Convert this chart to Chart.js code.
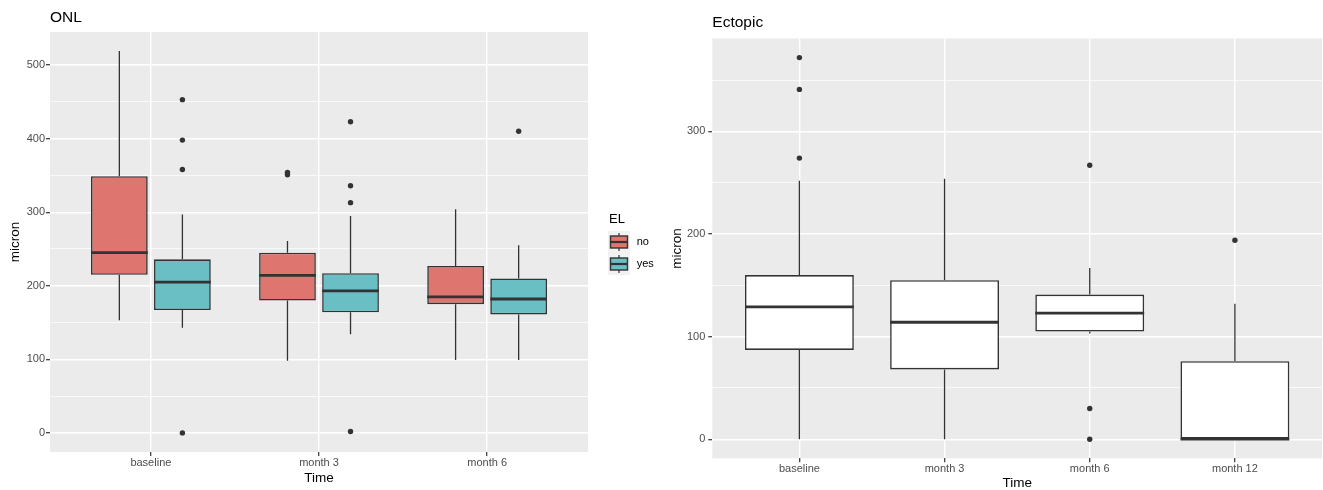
<!DOCTYPE html>
<html>
<head>
<meta charset="utf-8">
<script src="https://cdn.jsdelivr.net/npm/chart.js@4.4.1/dist/chart.umd.min.js"></script>
<style>
html,body{margin:0;padding:0;background:#ffffff;}
#wrap{position:relative;width:1323px;height:490px;overflow:hidden;}
#onl{position:absolute;left:0;top:0;}
#ect{position:absolute;left:655px;top:0;}
</style>
</head>
<body>
<div id="wrap">
<canvas id="onl" width="655" height="490"></canvas>
<canvas id="ect" width="668" height="490"></canvas>
</div>
<script>
// ---------------- DATA ----------------
// ONL panel (grouped by EL)
const onlTimes = ['baseline', 'month 3', 'month 6'];
const onlGroups = ['no', 'yes'];

const onlNoWhiskerLow  = [153, 98, 99];
const onlNoQ1          = [215, 180, 175];
const onlNoMedian      = [245, 214, 185];
const onlNoQ3          = [349, 245, 227];
const onlNoWhiskerHigh = [519, 261, 304];
const onlNoOutliers    = [[], [351, 354], []];

const onlYesWhiskerLow  = [143, 134, 99];
const onlYesQ1          = [167, 164, 161];
const onlYesMedian      = [205, 193, 182];
const onlYesQ3          = [236, 217, 210];
const onlYesWhiskerHigh = [297, 295, 255];
const onlYesOutliers    = [[453, 398, 358, 0], [423, 336, 313, 2], [410]];

const onlYTicks = [0, 100, 200, 300, 400, 500];

// Ectopic panel
const ectTimes = ['baseline', 'month 3', 'month 6', 'month 12'];
const ectWhiskerLow  = [0, 0, 103, 0];
const ectQ1          = [87, 68, 105, 0];
const ectMedian      = [129, 114, 123, 0];
const ectQ3          = [160, 155, 141, 76];
const ectWhiskerHigh = [252, 254, 167, 132];
const ectOutliers    = [[372, 341, 274], [], [267, 30, 0], [194]];

const ectYTicks = [0, 100, 200, 300];

// ---------------- STYLE ----------------
const FONT = "'Liberation Sans', Arial, Helvetica, sans-serif";
const groupFill = ['#DE756F', '#69BFC4'];
const INK = '#333333';
const PANEL = '#EBEBEB';
const TICKTXT = '#4D4D4D';

Chart.defaults.font.family = FONT;
Chart.defaults.animation = false;

// ggplot-like continuous range: data range expanded by 5%
function ggRange(values) {
  const all = values.flat(3);
  const lo = Math.min(...all), hi = Math.max(...all);
  const pad = (hi - lo) * 0.05;
  return [lo - pad, hi + pad];
}
// major + minor (midpoint) breaks inside the range
function ggBreaks(major, min, max) {
  const step = major[1] - major[0];
  const out = [];
  for (let v = major[0] - step; v <= major[major.length - 1] + step + 1e-9; v += step / 2) {
    if (v >= min && v <= max) out.push(v);
  }
  return out;
}
// ggplot discrete axis: 0.6 unit padding on each side
function ggDiscrete(scale) {
  const n = scale.getLabels().length;
  scale._startValue = -0.6;
  scale._valueRange = n - 1 + 1.2;
}

// ---------------- PLUGINS ----------------
const boxExtras = {
  id: 'boxExtras',
  beforeDraw(chart) {
    const {ctx, chartArea: a} = chart;
    ctx.save();
    ctx.fillStyle = PANEL;
    ctx.fillRect(a.left, a.top, a.width, a.height);
    ctx.restore();
  },
  beforeDatasetsDraw(chart) {
    const ctx = chart.ctx, ys = chart.scales.y;
    chart.data.datasets.forEach((ds, di) => {
      const st = ds.stats;
      chart.getDatasetMeta(di).data.forEach((bar, j) => {
        ctx.save();
        ctx.strokeStyle = INK;
        ctx.lineWidth = 1.3;
        ctx.beginPath();
        ctx.moveTo(bar.x, ys.getPixelForValue(st.hi[j]));
        ctx.lineTo(bar.x, ys.getPixelForValue(st.q3[j]));
        ctx.moveTo(bar.x, ys.getPixelForValue(st.lo[j]));
        ctx.lineTo(bar.x, ys.getPixelForValue(st.q1[j]));
        ctx.stroke();
        ctx.restore();
      });
    });
  },
  afterDatasetsDraw(chart) {
    const ctx = chart.ctx, ys = chart.scales.y;
    chart.data.datasets.forEach((ds, di) => {
      const st = ds.stats;
      chart.getDatasetMeta(di).data.forEach((bar, j) => {
        const half = bar.width / 2;
        const ym = ys.getPixelForValue(st.med[j]);
        ctx.save();
        ctx.strokeStyle = INK;
        ctx.lineWidth = 2.8;
        ctx.beginPath();
        ctx.moveTo(bar.x - half, ym);
        ctx.lineTo(bar.x + half, ym);
        ctx.stroke();
        ctx.fillStyle = INK;
        st.out[j].forEach(v => {
          ctx.beginPath();
          ctx.arc(bar.x, ys.getPixelForValue(v), 2.7, 0, Math.PI * 2);
          ctx.fill();
        });
        ctx.restore();
      });
    });
  }
};

const elLegend = {
  id: 'elLegend',
  afterDraw(chart, args, opts) {
    if (!opts || !opts.display) return;
    const {ctx, chartArea: a} = chart;
    const x0 = a.right + 20;
    const cy = (a.top + a.bottom) / 2;
    ctx.save();
    ctx.fillStyle = '#000';
    ctx.font = '13px ' + FONT;
    ctx.textAlign = 'left';
    ctx.textBaseline = 'middle';
    ctx.fillText(opts.title, x0 + 1, cy - 22.5);
    chart.data.datasets.forEach((ds, i) => {
      const ky = cy - 11 + i * 22;
      ctx.fillStyle = '#F2F2F2';
      ctx.fillRect(x0, ky, 22, 22);
      ctx.strokeStyle = INK;
      ctx.lineWidth = 1.2;
      ctx.beginPath();
      ctx.moveTo(x0 + 11, ky + 2);
      ctx.lineTo(x0 + 11, ky + 20);
      ctx.stroke();
      ctx.fillStyle = ds.backgroundColor;
      ctx.fillRect(x0 + 2.5, ky + 5, 17, 12);
      ctx.lineWidth = 1.4;
      ctx.strokeRect(x0 + 2.5, ky + 5, 17, 12);
      ctx.lineWidth = 2.2;
      ctx.beginPath();
      ctx.moveTo(x0 + 2.5, ky + 11);
      ctx.lineTo(x0 + 19.5, ky + 11);
      ctx.stroke();
      ctx.fillStyle = '#000';
      ctx.font = '11px ' + FONT;
      ctx.fillText(ds.label, x0 + 28.7, ky + 11);
    });
    ctx.restore();
  }
};

// ---------------- BUILDERS ----------------
function boxDataset(label, fill, lo, q1, med, q3, hi, out) {
  return {
    label: label,
    data: q1.map((v, i) => [v, q3[i]]),
    backgroundColor: fill,
    borderColor: INK,
    borderWidth: 1.6,
    borderSkipped: false,
    stats: {lo: lo, q1: q1, med: med, q3: q3, hi: hi, out: out}
  };
}

function makeOptions(cfg) {
  const yBreaks = ggBreaks(cfg.yTicks, cfg.yMin, cfg.yMax);
  const isMajor = v => cfg.yTicks.some(t => Math.abs(t - v) < 1e-6);
  return {
    responsive: false,
    animation: false,
    devicePixelRatio: 1,
    layout: {padding: {left: 0, right: cfg.padRight, top: 0, bottom: 0}},
    datasets: {bar: {categoryPercentage: 0.75, barPercentage: cfg.barPct, grouped: true}},
    plugins: {
      legend: {display: false},
      tooltip: {enabled: false},
      title: {
        display: true, text: cfg.title, align: 'start', fullSize: false,
        color: '#000', font: {size: 15.5, weight: 'normal', lineHeight: 1.2},
        padding: {top: cfg.titleTop, bottom: cfg.titleBottom}
      },
      elLegend: cfg.legend
    },
    scales: {
      x: {
        type: 'category',
        offset: true,
        afterUpdate: ggDiscrete,
        afterFit: s => { s.height = cfg.xHeight; },
        border: {display: false},
        grid: {offset: false, color: '#FFFFFF', lineWidth: 1.4, drawTicks: true,
               tickLength: 4, tickColor: INK, tickWidth: 1.2},
        ticks: {color: TICKTXT, font: {size: 11}, padding: 0.5, maxRotation: 0, autoSkip: false},
        title: {display: true, text: 'Time', color: '#000', font: {size: 13.5, lineHeight: 1},
                padding: {top: 0, bottom: cfg.xTitlePad}}
      },
      y: {
        type: 'linear',
        min: cfg.yMin, max: cfg.yMax,
        bounds: 'data',
        afterBuildTicks: s => { s.ticks = yBreaks.map(v => ({value: v})); },
        afterFit: s => { s.width = cfg.yWidth; },
        border: {display: false},
        grid: {
          color: '#FFFFFF',
          lineWidth: c => (c.tick && isMajor(c.tick.value)) ? 1.4 : 0.7,
          drawTicks: true, tickLength: 4,
          tickColor: c => (c.tick && isMajor(c.tick.value)) ? INK : 'rgba(0,0,0,0)',
          tickWidth: 1.2
        },
        ticks: {
          color: TICKTXT, font: {size: 11}, padding: cfg.yTickPad, autoSkip: false,
          callback: v => isMajor(v) ? String(Math.round(v)) : ''
        },
        title: {display: true, text: 'micron', color: '#000', font: {size: 13.5, lineHeight: 1},
                padding: {top: cfg.yTitlePad, bottom: 0}}
      }
    }
  };
}

// ---------------- ONL CHART ----------------
const onlRange = ggRange([onlNoWhiskerLow, onlNoWhiskerHigh, onlNoOutliers,
                          onlYesWhiskerLow, onlYesWhiskerHigh, onlYesOutliers]);
new Chart(document.getElementById('onl'), {
  type: 'bar',
  data: {
    labels: onlTimes,
    datasets: [
      boxDataset(onlGroups[0], groupFill[0], onlNoWhiskerLow, onlNoQ1, onlNoMedian, onlNoQ3, onlNoWhiskerHigh, onlNoOutliers),
      boxDataset(onlGroups[1], groupFill[1], onlYesWhiskerLow, onlYesQ1, onlYesMedian, onlYesQ3, onlYesWhiskerHigh, onlYesOutliers)
    ]
  },
  options: makeOptions({
    title: 'ONL', titleTop: 8, titleBottom: 5.4,
    padRight: 67, barPct: 0.9,
    xHeight: 38, xTitlePad: 5.3,
    yWidth: 50, yTickPad: 1, yTitlePad: 8.2,
    yMin: onlRange[0], yMax: onlRange[1], yTicks: onlYTicks,
    legend: {display: true, title: 'EL'}
  }),
  plugins: [boxExtras, elLegend]
});

// ---------------- ECTOPIC CHART ----------------
const ectRange = ggRange([ectWhiskerLow, ectWhiskerHigh, ectOutliers]);
new Chart(document.getElementById('ect'), {
  type: 'bar',
  data: {
    labels: ectTimes,
    datasets: [
      boxDataset('Ectopic', '#FFFFFF', ectWhiskerLow, ectQ1, ectMedian, ectQ3, ectWhiskerHigh, ectOutliers)
    ]
  },
  options: makeOptions({
    title: 'Ectopic', titleTop: 13, titleBottom: 6.9,
    padRight: 1, barPct: 1,
    xHeight: 31.7, xTitlePad: 0,
    yWidth: 57.3, yTickPad: 3, yTitlePad: 15.7,
    yMin: ectRange[0], yMax: ectRange[1], yTicks: ectYTicks,
    legend: {display: false}
  }),
  plugins: [boxExtras]
});
</script>
</body>
</html>
